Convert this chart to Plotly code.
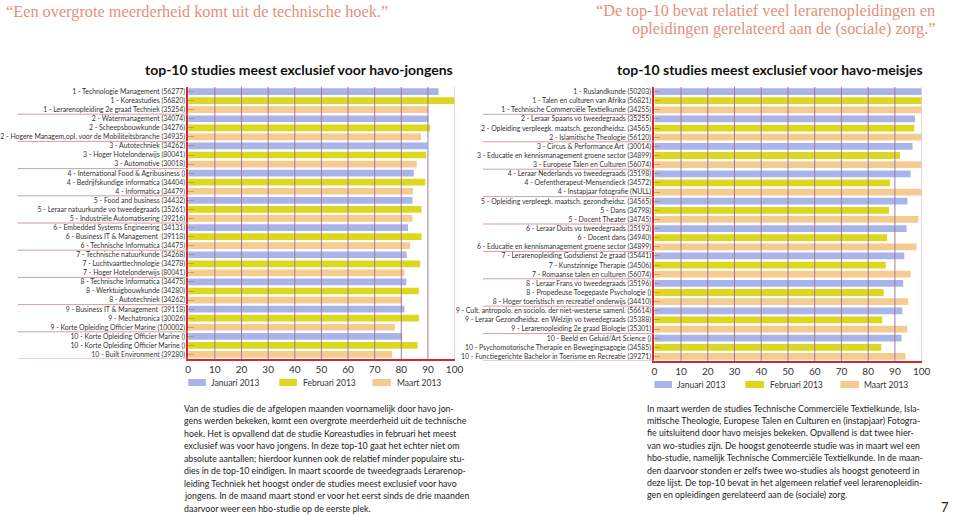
import plotly.graph_objects as go

W, H = 960, 515

months = ["Januari 2013", "Februari 2013", "Maart 2013"]
colors = ["#A9B5EA", "#DDD81F", "#F5CB90"]

# ---- left chart: havo-jongens ----
left_jan_labels = [
    "1 - Technologie Management (56277)",
    "2 - Watermanagement (34074)",
    "3 - Autotechniek (34262)",
    "4 - International Food & Agribusiness ()",
    "5 - Food and business (34432)",
    "6 - Embedded Systems Engineering (34131)",
    "7 - Technische natuurkunde (34268)",
    "8 - Technische Informatica (34475)",
    "9 - Business IT & Management  (39118)",
    "10 - Korte Opleiding Officier Marine ()",
]
left_feb_labels = [
    "1 - Koreastudies (56820)",
    "2 - Scheepsbouwkunde (34276)",
    "3 - Hoger Hotelonderwijs (80041)",
    "4 - Bedrijfskundige informatica (34404)",
    "5 - Leraar natuurkunde vo tweedegraads (35261)",
    "6 - Business IT & Management  (39118)",
    "7 - Luchtvaarttechnologie (34278)",
    "8 - Werktuigbouwkunde (34280)",
    "9 - Mechatronica (30026)",
    "10 - Korte Opleiding Officier Marine ()",
]
left_mar_labels = [
    "1 - Lerarenopleiding 2e graad Techniek (35254)",
    "2 - Hogere Managem.opl. voor de Mobiliteitsbranche (34935)",
    "3 - Automotive (30018)",
    "4 - Informatica (34479)",
    "5 - Industriële Automatisering (39216)",
    "6 - Technische Informatica (34475)",
    "7 - Hoger Hotelonderwijs (80041)",
    "8 - Autotechniek (34262)",
    "9 - Korte Opleiding Officier Marine (100002)",
    "10 - Built Environment (39280)",
]
left_jan = [94.0, 90.2, 89.8, 84.7, 84.2, 82.5, 82.0, 81.9, 81.2, 80.3]
left_feb = [100.0, 90.8, 89.4, 89.0, 87.6, 87.6, 87.1, 86.6, 86.6, 86.1]
left_mar = [90.2, 87.4, 85.8, 84.4, 84.2, 83.3, 81.2, 80.0, 77.6, 76.6]

# ---- right chart: havo-meisjes ----
right_jan_labels = [
    "1 - Ruslandkunde (50203)",
    "2 - Leraar Spaans vo tweedegraads (35255)",
    "3 - Circus & Performance Art  (30014)",
    "4 - Leraar Nederlands vo tweedegraads (35198)",
    "5 - Opleiding verpleegk. maatsch. gezondheidsz. (34565)",
    "6 - Leraar Duits vo tweedegraads (35193)",
    "7 - Lerarenopleiding Godsdienst 2e graad (35441)",
    "8 - Leraar Frans vo tweedegraads (35196)",
    "9 - Cult. antropolo. en sociolo. der niet-westerse samenl. (56614)",
    "10 - Beeld en Geluid/Art Science ()",
]
right_feb_labels = [
    "1 - Talen en culturen van Afrika (56821)",
    "2 - Opleiding verpleegk. maatsch. gezondheidsz. (34565)",
    "3 - Educatie en kennismanagement groene sector (34899)",
    "4 - Oefentherapeut-Mensendieck (34572)",
    "5 - Dans (34798)",
    "6 - Docent dans (34940)",
    "7 - Kunstzinnige Therapie (34506)",
    "8 - Propedeuse Toegepaste Psychologie ()",
    "9 - Leraar Gezondheidsz. en Welzijn vo tweedegraads (35388)",
    "10 - Psychomotorische Therapie en Bewegingsagogie (34585)",
]
right_mar_labels = [
    "1 - Technische Commerciële Textielkunde (34255)",
    "2 - Islamitische Theologie (56120)",
    "3 - Europese Talen en Culturen (56074)",
    "4 - Instapjaar fotografie (NULL)",
    "5 - Docent Theater (34745)",
    "6 - Educatie en kennismanagement groene sector (34899)",
    "7 - Romaanse talen en culturen (56074)",
    "8 - Hoger toeristisch en recreatief onderwijs (34410)",
    "9 - Lerarenopleiding 2e graad Biologie (35301)",
    "10 - Functiegerichte Bachelor in Toerisme en Recreatie (39271)",
]
right_jan = [100.0, 97.5, 96.6, 95.9, 94.7, 94.4, 93.5, 93.1, 92.8, 92.5]
right_feb = [100.0, 97.3, 91.9, 88.2, 87.8, 87.1, 86.6, 85.8, 85.3, 84.9]
right_mar = [100.0, 100.0, 100.0, 100.0, 98.8, 98.1, 95.9, 95.0, 94.6, 93.9]

x_ticks = [0, 10, 20, 30, 40, 50, 60, 70, 80, 90, 100]

titles = ["top-10 studies meest exclusief voor havo-jongens",
          "top-10 studies meest exclusief voor havo-meisjes"]

quote_left = "“Een overgrote meerderheid komt uit de technische hoek.”"
quote_right = ["“De top-10 bevat relatief veel lerarenopleidingen en",
               "opleidingen gerelateerd aan de (sociale) zorg.”"]

body_left = [
    "Van de studies die de afgelopen maanden voornamelijk door havo jon-",
    "gens werden bekeken, komt een overgrote meerderheid uit de technische",
    "hoek. Het is opvallend dat de studie Koreastudies in februari het meest",
    "exclusief was voor havo jongens. In deze top-10 gaat het echter niet om",
    "absolute aantallen; hierdoor kunnen ook de relatief minder populaire stu-",
    "dies in de top-10 eindigen. In maart scoorde de tweedegraads Lerarenop-",
    "leiding Techniek het hoogst onder de studies meest exclusief voor havo",
    "jongens. In de maand maart stond er voor het eerst sinds de drie maanden",
    "daarvoor weer een hbo-studie op de eerste plek.",
]
body_right = [
    "In maart werden de studies Technische Commerciële Textielkunde, Isla-",
    "mitische Theologie, Europese Talen en Culturen en (instapjaar) Fotogra-",
    "fie uitsluitend door havo meisjes bekeken. Opvallend is dat twee hier-",
    "van wo-studies zijn. De hoogst genoteerde studie was in maart wel een",
    "hbo-studie, namelijk Technische Commerciële Textielkunde. In de maan-",
    "den daarvoor stonden er zelfs twee wo-studies als hoogst genoteerd in",
    "deze lijst. De top-10 bevat in het algemeen relatief veel lerarenopleidin-",
    "gen en opleidingen gerelateerd aan de (sociale) zorg.",
]

RED = "#D6282C"
GRID = "#A27A9E"
GRID100 = "#E6B4B4"
SEP = "#D2A0A0"
QUOTE = "#E3907A"
TXT = "#333333"
FONT = "Lato"


def px(x):
    return x / W


def py(y):
    return 1 - y / H


charts = [
    dict(labels=[left_jan_labels, left_feb_labels, left_mar_labels],
         vals=[left_jan, left_feb, left_mar],
         xd=[px(181), px(453)], yd=[py(359), py(87)],
         sep_x0=7, leg=[(181, 199, 202), (274, 292, 296), (369, 388, 392)], leg_y=(379, 386),
         title_x=453),
    dict(labels=[right_jan_labels, right_feb_labels, right_mar_labels],
         vals=[right_jan, right_feb, right_mar],
         xd=[px(657), px(930)], yd=[py(361), py(87)],
         sep_x0=482, leg=[(657, 675, 678), (750, 769, 773), (847, 866, 869)], leg_y=(381, 388),
         title_x=933),
]

fig = go.Figure()
shapes = []
annotations = []

for ci, ch in enumerate(charts):
    sfx = "" if ci == 0 else str(ci + 1)
    xa, ya = "x" + sfx, "y" + sfx
    n = len(ch["vals"][0])
    tickvals, ticktext = [], []
    for r in range(n):
        for m in range(3):
            tickvals.append(3 * r + m)
            ticktext.append(ch["labels"][m][r])
    for m in range(3):
        fig.add_trace(go.Bar(
            x=ch["vals"][m], y=[3 * r + m for r in range(n)],
            orientation="h", marker=dict(color=colors[m], line=dict(width=0)),
            name=months[m], xaxis=xa, yaxis=ya, showlegend=False,
            hoverinfo="x+name",
        ))
    fig.update_layout(**{
        "xaxis" + sfx: dict(domain=ch["xd"], range=[0, 100], tickvals=x_ticks,
                            showgrid=False, zeroline=False, showline=True,
                            linecolor=RED, linewidth=1.5, ticks="",
                            tickfont=dict(family=FONT, size=10, color=TXT),
                            anchor=ya, fixedrange=True),
        "yaxis" + sfx: dict(domain=ch["yd"], range=[3 * n - 0.5, -0.5],
                            tickmode="array", tickvals=tickvals, ticktext=ticktext,
                            showgrid=False, zeroline=False, showline=True,
                            linecolor=RED, linewidth=1.5, ticks="inside",
                            ticklen=6, tickwidth=1, tickcolor="rgba(215,120,50,0.65)",
                            tickfont=dict(family=FONT, size=6.9, color=TXT),
                            anchor=xa, fixedrange=True),
    })
    # vertical grid lines drawn above bars
    for t in x_ticks[1:]:
        shapes.append(dict(type="line", xref=xa, yref=ya + " domain",
                           x0=t, x1=t, y0=0, y1=1, layer="above",
                           line=dict(color=GRID100 if t == 100 else GRID, width=1)))
    # rank group separators in label area
    for r in range(1, n + 1):
        yy = 3 * r - 0.5
        shapes.append(dict(type="line", xref="paper", yref=ya,
                           x0=px(ch["sep_x0"]), x1=ch["xd"][0], y0=yy, y1=yy,
                           layer="above", line=dict(color=SEP, width=1)))
    # legend
    for m in range(3):
        x0, x1, xt = ch["leg"][m]
        y0, y1 = ch["leg_y"]
        shapes.append(dict(type="rect", xref="paper", yref="paper",
                           x0=px(x0), x1=px(x1), y0=py(y1), y1=py(y0),
                           fillcolor=colors[m], line=dict(width=0)))
        annotations.append(dict(xref="paper", yref="paper", x=px(xt), y=py((y0 + y1) / 2),
                                text=months[m], showarrow=False, xanchor="left",
                                yanchor="middle",
                                font=dict(family=FONT, size=8.5, color=TXT)))
    # chart title
    annotations.append(dict(xref="paper", yref="paper", x=px(ch["title_x"]), y=py(70),
                            text=titles[ci], showarrow=False, xanchor="right",
                            yanchor="middle",
                            font=dict(family=FONT, size=14, color="#111111", weight="bold")))

# quotes
annotations.append(dict(xref="paper", yref="paper", x=px(-7), y=py(12), text=quote_left,
                        showarrow=False, xanchor="left", yanchor="middle",
                        font=dict(family="Liberation Serif", size=16.3, color=QUOTE)))
for i, line in enumerate(quote_right):
    annotations.append(dict(xref="paper", yref="paper", x=px(946), y=py(11 + 17 * i),
                            text=line, showarrow=False, xanchor="right", yanchor="middle",
                            font=dict(family="Liberation Serif", size=16.3, color=QUOTE)))

# body text
for i, line in enumerate(body_left):
    annotations.append(dict(xref="paper", yref="paper", x=px(175), y=py(408 + 12.5 * i),
                            text=line, showarrow=False, xanchor="left", yanchor="middle",
                            font=dict(family=FONT, size=8.8, color="#222222")))
for i, line in enumerate(body_right):
    annotations.append(dict(xref="paper", yref="paper", x=px(647), y=py(408 + 12.4 * i),
                            text=line, showarrow=False, xanchor="left", yanchor="middle",
                            font=dict(family=FONT, size=8.8, color="#222222")))
annotations.append(dict(xref="paper", yref="paper", x=px(954), y=py(507), text="7",
                        showarrow=False, xanchor="center", yanchor="middle",
                        font=dict(family=FONT, size=13, color="#222222")))

fig.update_layout(
    width=W, height=H, autosize=False,
    margin=dict(l=0, r=0, t=0, b=0),
    paper_bgcolor="white", plot_bgcolor="white",
    bargap=0.26, showlegend=False,
    shapes=shapes, annotations=annotations,
    font=dict(family=FONT, color=TXT),
)

fig.write_html(
    "out.html",
    config={"displayModeBar": False},
    post_script="document.body.style.margin='0px';document.body.style.overflow='hidden';",
)
